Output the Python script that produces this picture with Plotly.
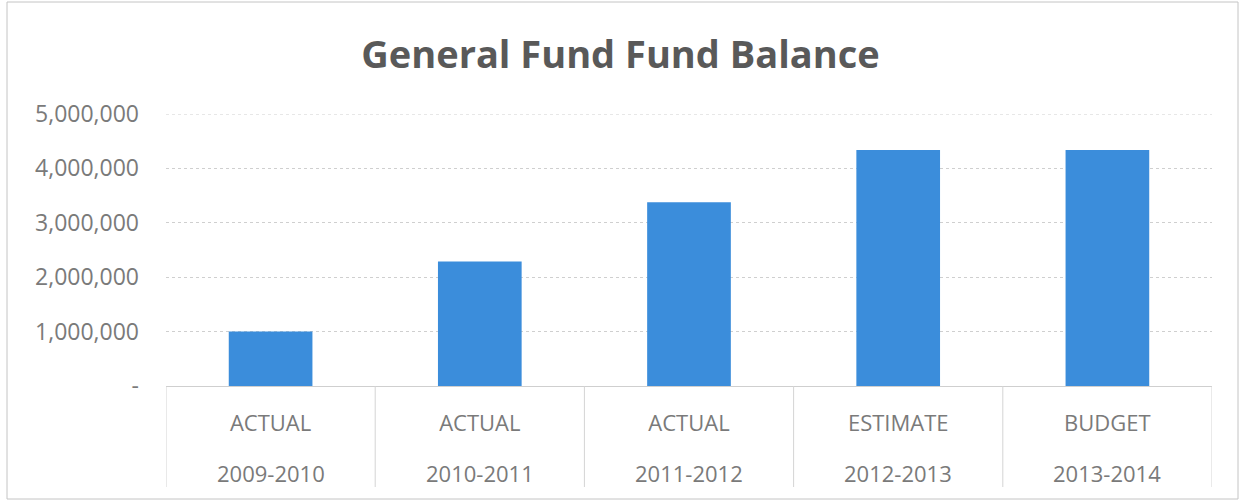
import plotly.graph_objects as go

# ---- data ----
years = ["2009-2010", "2010-2011", "2011-2012", "2012-2013", "2013-2014"]
kinds = ["ACTUAL", "ACTUAL", "ACTUAL", "ESTIMATE", "BUDGET"]
balance = [1000000, 2290000, 3380000, 4340000, 4340000]
y_tickvals = [0, 1000000, 2000000, 3000000, 4000000, 5000000]
y_ticktext = ["-", "1,000,000", "2,000,000", "3,000,000", "4,000,000", "5,000,000"]
title_text = "General Fund Fund Balance"

W, H = 1241, 502
L, R, T, B = 166, 29, 114, 116
pw, ph = W - L - R, H - T - B

def px_x(p):  # pixel -> paper x
    return (p - L) / pw

def px_y(p):  # pixel -> paper y
    return (H - B - p) / ph

FONT = "Open Sans"
GRAY = "#7a7a7a"
LINE = "#d4d4d4"
GRID = "#cfcfcf"

fig = go.Figure(
    go.Bar(
        x=years,
        y=balance,
        marker=dict(color="#3b8ddb", line=dict(width=0)),
        width=0.4,
        hoverinfo="skip",
    )
)

# category dividers and year labels
n = len(years)
shapes = []
for i in range(n + 1):
    shapes.append(dict(type="line", xref="x", yref="paper",
                       x0=i - 0.5, x1=i - 0.5, y0=0, y1=px_y(487),
                       line=dict(color=LINE, width=1)))
# top gridline at the axis maximum
shapes.append(dict(type="line", xref="paper", yref="y",
                   x0=0, x1=1, y0=y_tickvals[-1], y1=y_tickvals[-1],
                   line=dict(color=GRID, width=1, dash="dot")))
# outer chart border
shapes.append(dict(type="rect", xref="paper", yref="paper",
                   x0=px_x(7), x1=px_x(1238), y0=px_y(499), y1=px_y(2),
                   line=dict(color="#c4c4c4", width=1), layer="below"))

annotations = []
for yr in years:
    annotations.append(dict(x=yr, xref="x", yref="paper", y=px_y(473),
                            text=yr, showarrow=False, yanchor="middle",
                            font=dict(family=FONT, size=22, color=GRAY)))

fig.update_layout(
    width=W, height=H,
    margin=dict(l=L, r=R, t=T, b=B),
    paper_bgcolor="white", plot_bgcolor="white",
    showlegend=False,
    title=dict(text=title_text, x=0.5, xanchor="center",
               y=1 - 55 / H, yanchor="middle",
               font=dict(family=FONT, size=38, color="#595959", weight="bold")),
    shapes=shapes,
    annotations=annotations,
    bargap=0.6,
)

fig.update_xaxes(
    type="category",
    tickvals=years, ticktext=kinds,
    tickfont=dict(family=FONT, size=22, color=GRAY),
    showgrid=False, zeroline=False, showline=False, ticks="",
    ticklabelstandoff=22,
    range=[-0.5, n - 0.5],
)
fig.update_yaxes(
    range=[0, 5000000],
    tickvals=y_tickvals, ticktext=y_ticktext,
    tickfont=dict(family=FONT, size=23, color=GRAY),
    showgrid=True, gridcolor=GRID, griddash="dot", gridwidth=1,
    zeroline=True, zerolinecolor=GRID, zerolinewidth=1,
    showline=False, ticks="",
    ticklabelstandoff=26,
)

fig.write_html(
    "out.html",
    config={"displayModeBar": False},
    post_script="document.body.style.margin='0';document.body.style.overflow='hidden';",
)
